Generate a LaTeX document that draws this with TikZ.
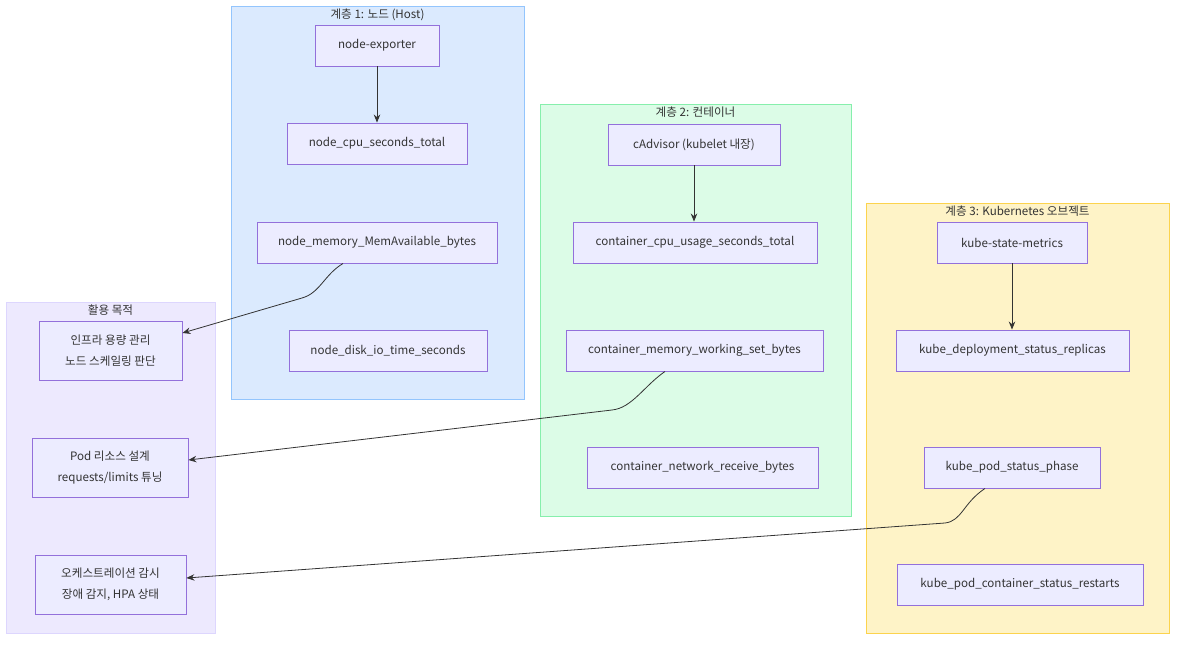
\documentclass[tikz,border=0pt]{standalone}
\usepackage{fontspec}
\setmainfont{Noto Sans CJK KR}
\usetikzlibrary{arrows.meta,calc}
\definecolor{nodefill}{HTML}{ECECFF}
\definecolor{nodeline}{HTML}{9370DB}
\definecolor{txt}{HTML}{333333}
\definecolor{goalfill}{HTML}{EDE9FE}
\definecolor{goalline}{HTML}{DDD6FE}
\definecolor{hostfill}{HTML}{DBEAFE}
\definecolor{hostline}{HTML}{93C5FD}
\definecolor{ctrfill}{HTML}{DCFCE7}
\definecolor{ctrline}{HTML}{86EFAC}
\definecolor{k8sfill}{HTML}{FEF3C7}
\definecolor{k8sline}{HTML}{FCD34D}
\begin{document}
\begin{tikzpicture}[x=1pt, y=-1pt,
  font=\fontsize{11.6}{21}\selectfont,
  metric/.style={draw=nodeline, fill=nodefill, line width=0.9pt, text=txt,
                 minimum height=41pt, inner sep=0pt},
  goal/.style={metric, minimum height=59pt, align=center},
  layer/.style={line width=0.9pt, inner sep=0pt},
  ttl/.style={text=txt, anchor=north, inner sep=0pt},
  arr/.style={-{Stealth[length=8pt,width=6.5pt]}, line width=0.8pt, draw=txt}]
\useasboundingbox (0,0) rectangle (1184,645);
% groups
\node[layer, draw=goalline, fill=goalfill, minimum width=209pt, minimum height=331pt] (goals) at (110.5,467.5) {};
\node[layer, draw=hostline, fill=hostfill, minimum width=293pt, minimum height=393pt] (host) at (377.5,202.5) {};
\node[layer, draw=ctrline, fill=ctrfill, minimum width=311pt, minimum height=412pt] (ctr) at (695.5,310) {};
\node[layer, draw=k8sline, fill=k8sfill, minimum width=303pt, minimum height=430pt] (k8s) at (1017.5,418) {};
\node[ttl] (goalsttl) at ($(goals.north)+(0,3)$) {활용 목적};
\node[ttl] (hostttl) at ($(host.north)+(0,3)$) {계층 1: 노드 (Host)};
\node[ttl] (ctrttl) at ($(ctr.north)+(0,3)$) {계층 2: 컨테이너};
\node[ttl] (k8sttl) at ($(k8s.north)+(0,3)$) {계층 3: Kubernetes 오브젝트};
% layer 1
\node[metric, minimum width=124pt] (exporter) at (377,45.5) {node-exporter};
\node[metric, minimum width=180pt] (nodecpu) at (377,143.5) {node\_cpu\_seconds\_total};
\node[metric, minimum width=240pt] (nodemem) at (377,242.5) {node\_memory\_MemAvailable\_bytes};
\node[metric, minimum width=198pt] (nodedisk) at (388,350.5) {node\_disk\_io\_time\_seconds};
% layer 2
\node[metric, minimum width=172pt] (cadvisor) at (694,144.5) {cAdvisor (kubelet 내장)};
\node[metric, minimum width=244pt] (ctrcpu) at (695,242.5) {container\_cpu\_usage\_seconds\_total};
\node[metric, minimum width=257pt] (ctrmem) at (694.5,350.5) {container\_memory\_working\_set\_bytes};
\node[metric, minimum width=231pt] (ctrnet) at (702.5,467.5) {container\_network\_receive\_bytes};
% layer 3
\node[metric, minimum width=150pt] (ksm) at (1012,242.5) {kube-state-metrics};
\node[metric, minimum width=233pt] (deploy) at (1012.5,350.5) {kube\_deployment\_status\_replicas};
\node[metric, minimum width=176pt] (podphase) at (1012,467.5) {kube\_pod\_status\_phase};
\node[metric, minimum width=246pt] (restarts) at (1020,584.5) {kube\_pod\_container\_status\_restarts};
% goals
\node[goal, minimum width=143pt] (infra) at (110.5,350.5) {인프라 용량 관리\\노드 스케일링 판단};
\node[goal, minimum width=156pt] (podres) at (110,467.5) {Pod 리소스 설계\\requests/limits 튜닝};
\node[goal, minimum width=151pt] (orch) at (110.5,584.5) {오케스트레이션 감시\\장애 감지, HPA 상태};
% edges
\draw[arr] (exporter) -- (nodecpu);
\draw[arr] (cadvisor) -- (cadvisor |- ctrcpu.north);
\draw[arr] (ksm) -- (ksm |- deploy.north);
\coordinate (memout) at ($(nodemem.south)+(-34,0)$);
\coordinate (infrain) at ($(infra.east)+(0,-17.5)$);
\draw[arr] (memout) .. controls (324,275) and (320,293) .. (302,298) -- (infrain);
\coordinate (ctrout) at ($(ctrmem.south)+(-29.5,0)$);
\coordinate (podin) at ($(podres.east)+(0,-7.5)$);
\draw[arr] (ctrout) .. controls (644,386) and (632,408) .. (612,410) -- (podin);
\coordinate (phaseout) at ($(podphase.south)+(-27,0)$);
\coordinate (orchin) at ($(orch.east)+(0,-6.5)$);
\draw[arr] (phaseout) .. controls (963,503) and (962,521) .. (945,523) -- (orchin);
\end{tikzpicture}
\end{document}
